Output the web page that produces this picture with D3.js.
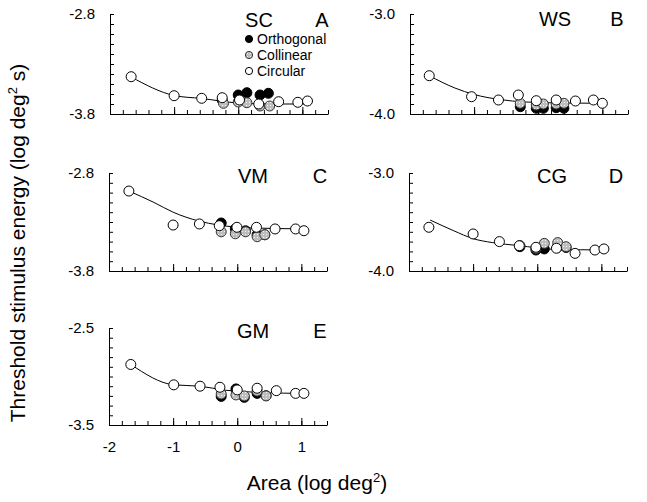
<!DOCTYPE html>
<html>
<head>
<meta charset="utf-8">
<script src="https://cdn.jsdelivr.net/npm/d3@7"></script>
<style>
  html, body { margin: 0; padding: 0; background: #fff; }
  svg { display: block; }
  text { font-family: "Liberation Sans", Arial, Helvetica, sans-serif; fill: #000; }
</style>
</head>
<body>
<svg id="chart" width="647" height="502"></svg>
<script>
// Observers and panel letters
const subjects = ["SC", "WS", "VM", "CG", "GM"];
const panelLetters = ["A", "B", "C", "D", "E"];

// Vertical range of each panel (log deg^2 s) and its end labels
const yDomains = [[-3.8, -2.8], [-4.0, -3.0], [-3.8, -2.8], [-4.0, -3.0], [-3.5, -2.5]];
const yTickLabels = [["-3.8", "-2.8"], ["-4.0", "-3.0"], ["-3.8", "-2.8"], ["-4.0", "-3.0"], ["-3.5", "-2.5"]];

// Area axis (log deg^2)
const xDomain = [-2, 1.4];
const xTickLabels = ["-2", "-1", "0", "1"];
const xTickValues = [-2, -1, 0, 1];

// Stimulus types shown in the legend
const stimulusTypes = ["Orthogonal", "Collinear", "Circular"];

// Threshold data: [log area, log energy]
const scOrthogonal = [[-0.25, -3.66], [0.0, -3.61], [0.135, -3.587], [0.34, -3.61], [0.47, -3.593]];
const scCollinear  = [[-0.23, -3.693], [0.0, -3.68], [0.135, -3.687], [0.34, -3.72], [0.49, -3.72]];
const scCircular   = [[-1.67, -3.427], [-1.0, -3.617], [-0.57, -3.643], [-0.25, -3.637], [0.02, -3.66],
                      [0.32, -3.70], [0.63, -3.677], [0.93, -3.683], [1.08, -3.67]];
const scFit        = [[-1.67, -3.43], [-1.0, -3.615], [-0.57, -3.645], [0.0, -3.69], [0.5, -3.70], [1.08, -3.70]];

const wsOrthogonal = [[-0.28, -3.927], [-0.03, -3.943], [0.08, -3.943], [0.28, -3.937], [0.40, -3.943]];
const wsCollinear  = [[-0.28, -3.893], [-0.03, -3.91], [0.08, -3.90], [0.28, -3.90], [0.40, -3.893]];
const wsCircular   = [[-1.70, -3.617], [-1.04, -3.827], [-0.62, -3.86], [-0.31, -3.81], [-0.03, -3.867],
                      [0.28, -3.86], [0.58, -3.87], [0.86, -3.86], [1.0, -3.893]];
const wsFit        = [[-1.70, -3.617], [-1.3, -3.74], [-1.0, -3.805], [-0.6, -3.855], [-0.2, -3.88], [0.4, -3.89], [1.0, -3.893]];

const vmOrthogonal = [[-0.25, -3.31], [-0.03, -3.37], [0.13, -3.39], [0.31, -3.43], [0.43, -3.43]];
const vmCollinear  = [[-0.25, -3.40], [-0.03, -3.42], [0.13, -3.40], [0.31, -3.45], [0.43, -3.43]];
const vmCircular   = [[-1.69, -2.984], [-1.0, -3.331], [-0.59, -3.320], [-0.28, -3.338], [-0.005, -3.354],
                      [0.30, -3.354], [0.59, -3.371], [0.91, -3.371], [1.04, -3.389]];
const vmFit        = [[-1.69, -2.984], [-1.3, -3.10], [-1.0, -3.20], [-0.6, -3.29], [-0.3, -3.33], [0.2, -3.36], [1.04, -3.37]];

const cgOrthogonal = [[-0.27, -3.752], [-0.02, -3.786], [0.11, -3.775], [0.31, -3.76], [0.45, -3.76]];
const cgCollinear  = [[-0.27, -3.74], [-0.02, -3.77], [0.11, -3.718], [0.32, -3.71], [0.45, -3.752]];
const cgCircular   = [[-1.69, -3.554], [-1.0, -3.622], [-0.59, -3.70], [-0.28, -3.742], [-0.02, -3.758],
                      [0.30, -3.768], [0.59, -3.82], [0.90, -3.786], [1.04, -3.775]];
const cgFit        = [[-1.67, -3.48], [-1.3, -3.59], [-1.0, -3.67], [-0.7, -3.71], [-0.3, -3.74], [0.3, -3.78], [1.04, -3.785]];

const gmOrthogonal = [[-0.25, -3.205], [-0.02, -3.128], [0.11, -3.215], [0.31, -3.174], [0.45, -3.198]];
const gmCollinear  = [[-0.25, -3.18], [-0.02, -3.19], [0.11, -3.20], [0.31, -3.15], [0.45, -3.20]];
const gmCircular   = [[-1.66, -2.876], [-0.99, -3.086], [-0.58, -3.10], [-0.27, -3.111], [0.0, -3.138],
                      [0.31, -3.121], [0.61, -3.146], [0.91, -3.174], [1.04, -3.174]];
const gmFit        = [[-1.66, -2.876], [-0.99, -3.086], [-0.58, -3.10], [-0.2, -3.14], [0.4, -3.165], [1.04, -3.175]];

const orthogonalSets = [scOrthogonal, wsOrthogonal, vmOrthogonal, cgOrthogonal, gmOrthogonal];
const collinearSets  = [scCollinear, wsCollinear, vmCollinear, cgCollinear, gmCollinear];
const circularSets   = [scCircular, wsCircular, vmCircular, cgCircular, gmCircular];
const fitSets        = [scFit, wsFit, vmFit, cgFit, gmFit];

// ---- layout ----
const panelWidth = 218;
const panelBoxes = [
  { left: 110, top: 14,  bottom: 114 },
  { left: 410, top: 14,  bottom: 114 },
  { left: 109, top: 173, bottom: 271 },
  { left: 409, top: 173, bottom: 271 },
  { left: 109, top: 328, bottom: 425 }
];

const markStyle = {
  Orthogonal: { fill: "#000", stroke: "#000" },
  Collinear:  { fill: "url(#stipple)", stroke: "#333" },
  Circular:   { fill: "#fff", stroke: "#000" }
};

const svg = d3.select("#chart");

// grey stippled fill for collinear marks
const defs = svg.append("defs");
const pat = defs.append("pattern").attr("id", "stipple")
  .attr("patternUnits", "userSpaceOnUse").attr("width", 3).attr("height", 3);
pat.append("rect").attr("width", 3).attr("height", 3).attr("fill", "#bdbdbd");
pat.append("rect").attr("x", 1).attr("y", 1).attr("width", 1).attr("height", 1).attr("fill", "#f4f4f4");

const x = d3.scaleLinear().domain(xDomain).range([0, panelWidth]);
const minorX = d3.range(-2, 1.41, 0.2).map(v => +v.toFixed(1));

subjects.forEach((subj, i) => {
  const box = panelBoxes[i];
  const h = box.bottom - box.top;
  const y = d3.scaleLinear().domain(yDomains[i]).range([h, 0]);
  const g = svg.append("g").attr("transform", `translate(${box.left},${box.top})`);

  // y axis: inward ticks every 0.1
  const yTicks = d3.range(0, 11).map(k => yDomains[i][0] + k * 0.1);
  g.append("g").attr("class", "yaxis")
    .call(d3.axisLeft(y).tickValues(yTicks).tickSize(-4).tickSizeOuter(0).tickFormat(""))
    .call(s => s.selectAll("line, path").attr("stroke", "#000").attr("stroke-width", 1));
  g.append("g")
    .call(d3.axisLeft(y).tickValues(yDomains[i]).tickSize(0).tickPadding(15)
      .tickFormat((d, k) => yTickLabels[i][k]))
    .call(s => s.select(".domain").remove())
    .call(s => s.selectAll("text").attr("font-size", 15)
      .attr("font-family", "'Liberation Sans', Arial, sans-serif").attr("fill", "#000"));

  // x axis: minor ticks every 0.2, longer at integers
  g.append("g").attr("transform", `translate(0,${h})`)
    .call(d3.axisBottom(x).tickValues(minorX).tickSize(-4).tickSizeOuter(0).tickFormat(""))
    .call(s => s.selectAll("line, path").attr("stroke", "#000").attr("stroke-width", 1));
  const major = g.append("g").attr("transform", `translate(0,${h})`)
    .call(d3.axisBottom(x).tickValues(xTickValues).tickSize(-7).tickSizeOuter(0).tickPadding(16)
      .tickFormat((d, k) => i === 4 ? xTickLabels[k] : ""))
    .call(s => s.select(".domain").remove())
    .call(s => s.selectAll("line").attr("stroke", "#000").attr("stroke-width", 1));
  major.selectAll("text").attr("font-size", 15)
    .attr("font-family", "'Liberation Sans', Arial, sans-serif").attr("fill", "#000");

  // fitted curve
  const line = d3.line().x(d => x(d[0])).y(d => y(d[1])).curve(d3.curveMonotoneX);
  g.append("path").datum(fitSets[i]).attr("d", line)
    .attr("fill", "none").attr("stroke", "#000").attr("stroke-width", 1);

  // points: orthogonal, then collinear, open circles on top
  [["Orthogonal", orthogonalSets[i]], ["Collinear", collinearSets[i]], ["Circular", circularSets[i]]]
    .forEach(([type, pts]) => {
      g.selectAll(null).data(pts).enter().append("circle")
        .attr("cx", d => x(d[0])).attr("cy", d => y(d[1])).attr("r", 5)
        .attr("fill", markStyle[type].fill).attr("stroke", markStyle[type].stroke)
        .attr("stroke-width", 1);
    });

  // observer and panel letter
  g.append("text").attr("x", [149, 145, 144, 143, 144][i]).attr("y", [13, 12, 10, 10, 10][i])
    .attr("text-anchor", "middle").attr("font-size", 20).text(subj);
  g.append("text").attr("x", [212, 207, 211, 207, 211][i]).attr("y", [13, 12, 10, 10, 10][i])
    .attr("text-anchor", "middle").attr("font-size", 20).text(panelLetters[i]);

  // legend in the first panel
  if (i === 0) {
    const lg = g.append("g").attr("transform", "translate(139,25)");
    stimulusTypes.forEach((t, k) => {
      const row = lg.append("g").attr("transform", `translate(0,${k * 16})`);
      row.append("circle").attr("r", 3.6)
        .attr("fill", markStyle[t].fill).attr("stroke", markStyle[t].stroke).attr("stroke-width", 1);
      row.append("text").attr("x", 8).attr("y", 0).attr("dy", "0.35em")
        .attr("font-size", 14).text(t);
    });
  }
});

// axis titles
const xTitle = svg.append("text").attr("x", 317).attr("y", 490).attr("text-anchor", "middle")
  .attr("font-size", 21);
xTitle.append("tspan").text("Area (log deg");
xTitle.append("tspan").attr("font-size", 13).attr("dy", -8).text("2");
xTitle.append("tspan").attr("dy", 8).text(")");

const yTitle = svg.append("text").attr("transform", "translate(25,243) rotate(-90)")
  .attr("text-anchor", "middle").attr("font-size", 21);
yTitle.append("tspan").text("Threshold stimulus energy  (log deg");
yTitle.append("tspan").attr("font-size", 13).attr("dy", -8).text("2");
yTitle.append("tspan").attr("dy", 8).text(" s)");
</script>
</body>
</html>
